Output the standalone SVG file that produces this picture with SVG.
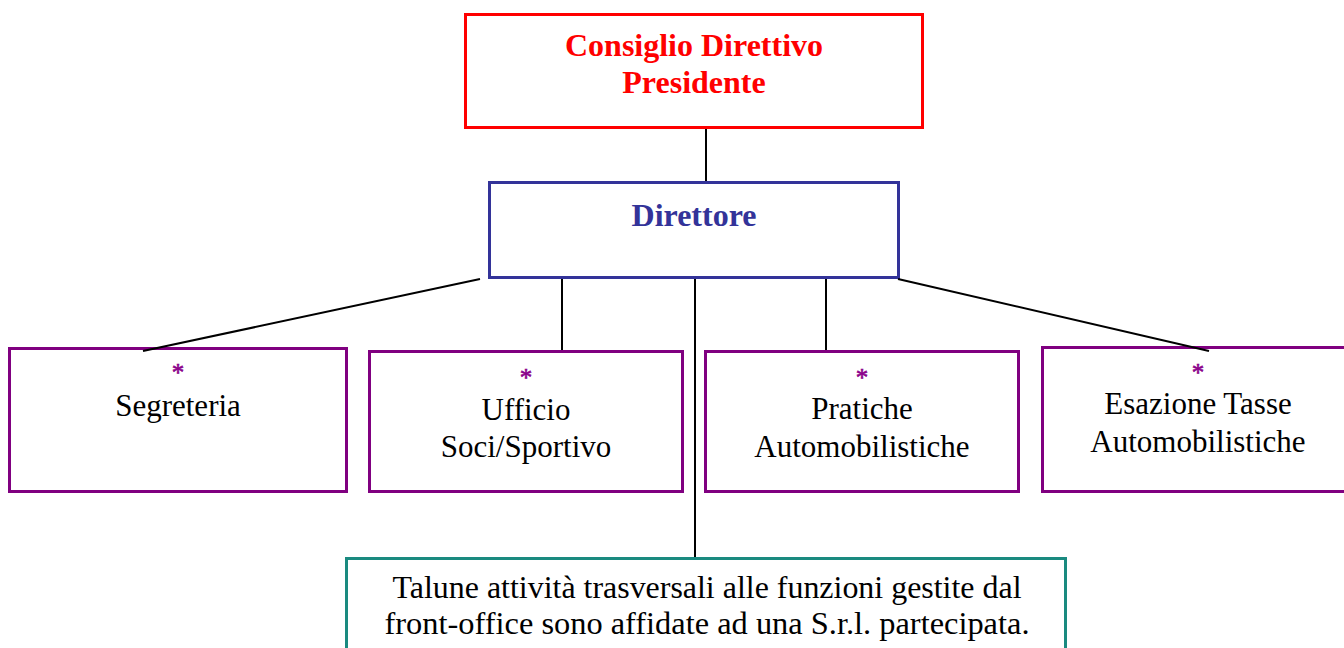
<svg xmlns="http://www.w3.org/2000/svg" width="1344" height="648" viewBox="0 0 1344 648">
<style>
.box{fill:#fff;stroke-width:3}
.t{font-family:"Liberation Serif","Times New Roman",serif;text-anchor:middle}
.lbl{font-size:31px;fill:#000}
.ast{font-size:25px;fill:#8B008B;stroke:#8B008B;stroke-width:0.6}
.con{stroke:#000;stroke-width:2;fill:none}
</style>
<rect width="1344" height="648" fill="#fff"/>
<g id="consiglio">
<rect class="box" x="465.5" y="14.5" width="457" height="113" stroke="#FF0000"/>
<text class="t" x="694" y="56" font-size="32" font-weight="bold" fill="#FF0000">Consiglio Direttivo</text>
<text class="t" x="694" y="93" font-size="32" font-weight="bold" fill="#FF0000">Presidente</text>
</g>
<g id="direttore">
<rect class="box" x="489.5" y="182.5" width="409" height="95" stroke="#333399"/>
<text class="t" x="694" y="226" font-size="32" font-weight="bold" fill="#333399">Direttore</text>
</g>
<g id="segreteria">
<rect class="box" x="9.5" y="348.5" width="337" height="143" stroke="#800080"/>
<text class="t ast" x="178" y="381">*</text>
<text class="t lbl" x="178" y="416">Segreteria</text>
</g>
<g id="ufficio">
<rect class="box" x="369.5" y="351.5" width="313" height="140" stroke="#800080"/>
<text class="t ast" x="526" y="386">*</text>
<text class="t lbl" x="526" y="420">Ufficio</text>
<text class="t lbl" x="526" y="457">Soci/Sportivo</text>
</g>
<g id="pratiche">
<rect class="box" x="705.5" y="351.5" width="313" height="140" stroke="#800080"/>
<text class="t ast" x="862" y="386">*</text>
<text class="t lbl" x="862" y="419">Pratiche</text>
<text class="t lbl" x="862" y="457">Automobilistiche</text>
</g>
<g id="esazione">
<rect class="box" x="1042.5" y="347.5" width="312" height="144" stroke="#800080"/>
<text class="t ast" x="1198" y="381">*</text>
<text class="t lbl" x="1198" y="414">Esazione Tasse</text>
<text class="t lbl" x="1198" y="452">Automobilistiche</text>
</g>
<g id="nota">
<rect class="box" x="346.5" y="558.5" width="719" height="110" stroke="#1A8A80"/>
<text class="t" x="707" y="598" font-size="32" fill="#000" textLength="629" lengthAdjust="spacingAndGlyphs">Talune attività trasversali alle funzioni gestite dal</text>
<text class="t" x="707" y="634" font-size="32" fill="#000" textLength="645" lengthAdjust="spacingAndGlyphs">front-office sono affidate ad una S.r.l. partecipata.</text>
</g>
<g id="connectors">
<line class="con" x1="706" y1="129" x2="706" y2="181"/>
<line class="con" x1="480" y1="279" x2="143" y2="351"/>
<line class="con" x1="562" y1="279" x2="562" y2="350"/>
<line class="con" x1="695" y1="279" x2="695" y2="557"/>
<line class="con" x1="826" y1="279" x2="826" y2="350"/>
<line class="con" x1="898" y1="279" x2="1209" y2="351"/>
</g>
</svg>
